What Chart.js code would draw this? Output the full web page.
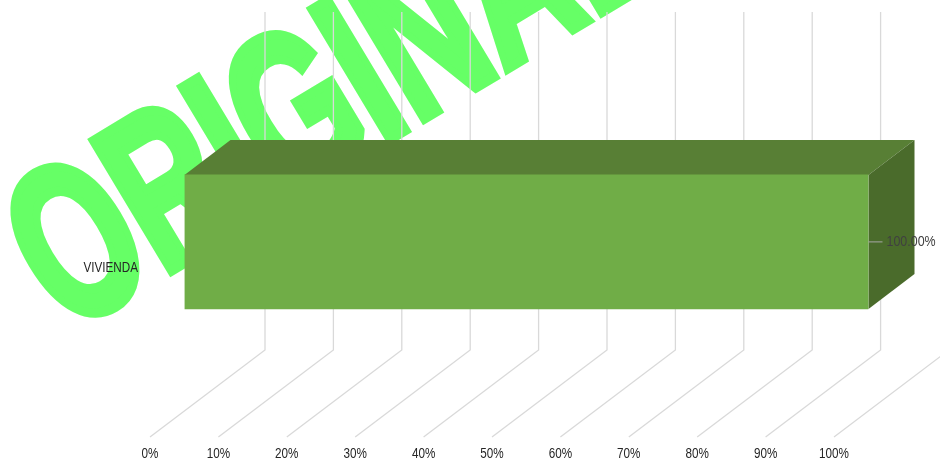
<!DOCTYPE html>
<html>
<head>
<meta charset="utf-8">
<style>html,body{margin:0;padding:0;background:#fff}canvas{display:block}</style>
<script src="https://cdn.jsdelivr.net/npm/chart.js@4/dist/chart.umd.min.js"></script>
</head>
<body>
<canvas id="c" width="940" height="459"></canvas>
<script>
const categories = ['VIVIENDA'];
const seriesValues = [100];
const valueLabels = ['100.00%'];
const watermarkText = 'ORIGINAL';

const depthX = 115, depthY = 87;
const barNear = 0.3, barFar = 0.7;
const labelFont = '15px "Liberation Sans"';
let textSqueeze = 0.78;

const threeD = {
  id: 'threeD',
  beforeDraw(chart) {
    const ctx = chart.ctx;
    ctx.save();
    ctx.fillStyle = '#fff';
    ctx.fillRect(0, 0, chart.width, chart.height);
    ctx.translate(66.6, 333.7);
    ctx.rotate(-31 * Math.PI / 180);
    ctx.scale(0.652, 1);
    ctx.fillStyle = '#66ff66';
    ctx.strokeStyle = '#66ff66';
    ctx.lineWidth = 10;
    ctx.lineJoin = 'miter';
    ctx.font = 'bold 220px "Liberation Sans"';
    ctx.textBaseline = 'alphabetic';
    ctx.fillText(watermarkText, 0, 0);
    ctx.strokeText(watermarkText, 0, 0);
    ctx.restore();
    if (!ctx.__squeezed) {
      const plainFill = ctx.fillText.bind(ctx);
      ctx.fillText = (t, x, y, m) => {
        ctx.save();
        ctx.translate(x, y);
        ctx.scale(textSqueeze, 1);
        plainFill(t, 0, 0, m);
        ctx.restore();
      };
      ctx.__squeezed = true;
    }
  },
  beforeDatasetsDraw(chart) {
    const ctx = chart.ctx, sx = chart.scales.x, a = chart.chartArea;
    ctx.save();
    ctx.strokeStyle = '#d9d9d9';
    ctx.lineWidth = 1.3;
    sx.ticks.forEach((t, i) => {
      const x = sx.getPixelForTick(i);
      ctx.beginPath();
      ctx.moveTo(x, a.bottom);
      ctx.lineTo(x + depthX, a.bottom - depthY);
      ctx.lineTo(x + depthX, a.top - depthY);
      ctx.stroke();
    });
    ctx.restore();
  },
  beforeDatasetDraw(chart, args) {
    const ctx = chart.ctx;
    const el = chart.getDatasetMeta(args.index).data[0];
    const p = el.getProps(['x', 'y', 'base', 'height'], true);
    const nx = depthX * barNear, ny = depthY * barNear;
    const fx = depthX * barFar, fy = depthY * barFar;
    const top = p.y - p.height / 2, bot = p.y + p.height / 2;
    ctx.save();
    ctx.fillStyle = '#587f35';
    ctx.beginPath();
    ctx.moveTo(p.base + nx, top - ny);
    ctx.lineTo(p.base + fx, top - fy);
    ctx.lineTo(p.x + fx, top - fy);
    ctx.lineTo(p.x + nx, top - ny);
    ctx.closePath();
    ctx.fill();
    ctx.fillStyle = '#4a6b2b';
    ctx.beginPath();
    ctx.moveTo(p.x + nx, top - ny);
    ctx.lineTo(p.x + fx, top - fy);
    ctx.lineTo(p.x + fx, bot - fy);
    ctx.lineTo(p.x + nx, bot - ny);
    ctx.closePath();
    ctx.fill();
    ctx.restore();
    ctx.save();
    ctx.translate(nx, -ny);
  },
  afterDatasetDraw(chart, args) {
    const ctx = chart.ctx;
    ctx.restore();
    const el = chart.getDatasetMeta(args.index).data[0];
    const nx = depthX * barNear, ny = depthY * barNear;
    const x = el.x + nx, y = el.y - ny;
    ctx.save();
    ctx.strokeStyle = '#a6a6a6';
    ctx.lineWidth = 1;
    ctx.beginPath();
    ctx.moveTo(x, y);
    ctx.lineTo(x + 14, y);
    ctx.stroke();
    ctx.fillStyle = '#404040';
    ctx.font = labelFont;
    ctx.textAlign = 'left';
    ctx.textBaseline = 'middle';
    textSqueeze = 0.83;
    ctx.fillText(valueLabels[0], x + 18, y);
    textSqueeze = 0.78;
    ctx.restore();
  }
};

new Chart(document.getElementById('c'), {
  type: 'bar',
  plugins: [threeD],
  data: {
    labels: categories,
    datasets: [{
      data: seriesValues,
      backgroundColor: '#70ad47',
      borderWidth: 0,
      barThickness: 134
    }]
  },
  options: {
    indexAxis: 'y',
    responsive: false,
    animation: false,
    layout: { padding: { top: 99, right: 106, left: 0, bottom: 0 } },
    plugins: { legend: { display: false }, tooltip: { enabled: false }, title: { display: false } },
    scales: {
      x: {
        min: 0, max: 100,
        grid: { display: false, drawTicks: false },
        border: { display: false },
        afterFit(s) { s.height = 22; },
        ticks: {
          stepSize: 10,
          autoSkip: false,
          maxRotation: 0,
          padding: 8,
          color: '#262626',
          font: { family: '"Liberation Sans"', size: 15 },
          callback: v => v + '%'
        }
      },
      y: {
        grid: { display: false, drawTicks: false },
        border: { display: false },
        afterFit(s) { s.width = 150; },
        ticks: {
          padding: 12,
          color: '#262626',
          font: { family: '"Liberation Sans"', size: 15 }
        }
      }
    }
  }
});
</script>
</body>
</html>
